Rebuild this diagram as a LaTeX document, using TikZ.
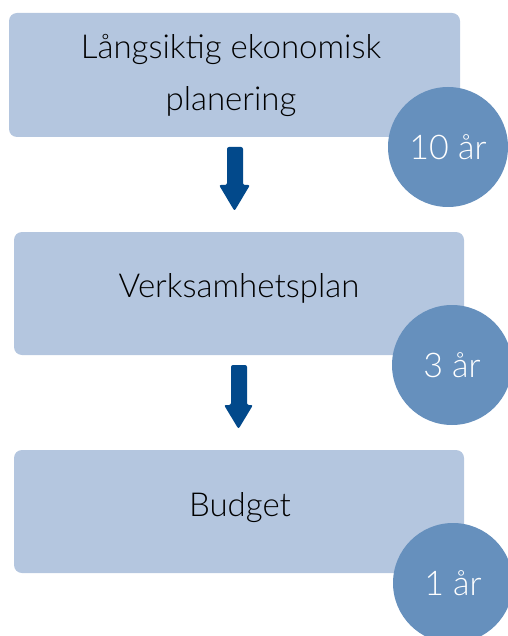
\documentclass[tikz,border=0pt]{standalone}
\usepackage{fontspec}
\setmainfont{Lato}[UprightFont=* Light]
\definecolor{boxfill}{HTML}{B4C6DF}
\definecolor{circfill}{HTML}{6690BD}
\definecolor{arrowfill}{HTML}{02498B}
\begin{document}
\begin{tikzpicture}[x=1pt,y=-1pt,
  stage/.style={fill=boxfill, rounded corners=8pt, inner sep=0pt},
  period/.style={circle, fill=circfill, minimum size=120pt, inner sep=0pt, text=white, font=\fontsize{34}{40}\selectfont},
  label/.style={font=\fontsize{33}{52}\selectfont, align=center, text=black},
  blockarrow/.style={fill=arrowfill, rounded corners=2pt}]
\useasboundingbox (0,0) rectangle (507,636);
% boxes
\fill[stage] (9,13) rectangle (460,137);
\fill[stage] (14,232) rectangle (464,355);
\fill[stage] (14,450) rectangle (464,573);
\node[label] (t1) at (231,75) {Långsiktig ekonomisk\\planering};
\node[label] (t2) at (239,288) {Verksamhetsplan};
\node[label] (t3) at (240,508) {Budget};
% circles
\node[period] (c1) at (448,147) {10 år};
\node[period] (c2) at (452,365) {3 år};
\node[period] (c3) at (453,583) {1 år};
% arrows
\fill[blockarrow] (227,147) -- (243,147) -- (243,185) -- (250,185) -- (234.5,211) -- (219,185) -- (227,185) -- cycle;
\fill[blockarrow] (231,365) -- (247,365) -- (247,405) -- (253,405) -- (238.5,429) -- (224,405) -- (231,405) -- cycle;
\end{tikzpicture}
\end{document}
